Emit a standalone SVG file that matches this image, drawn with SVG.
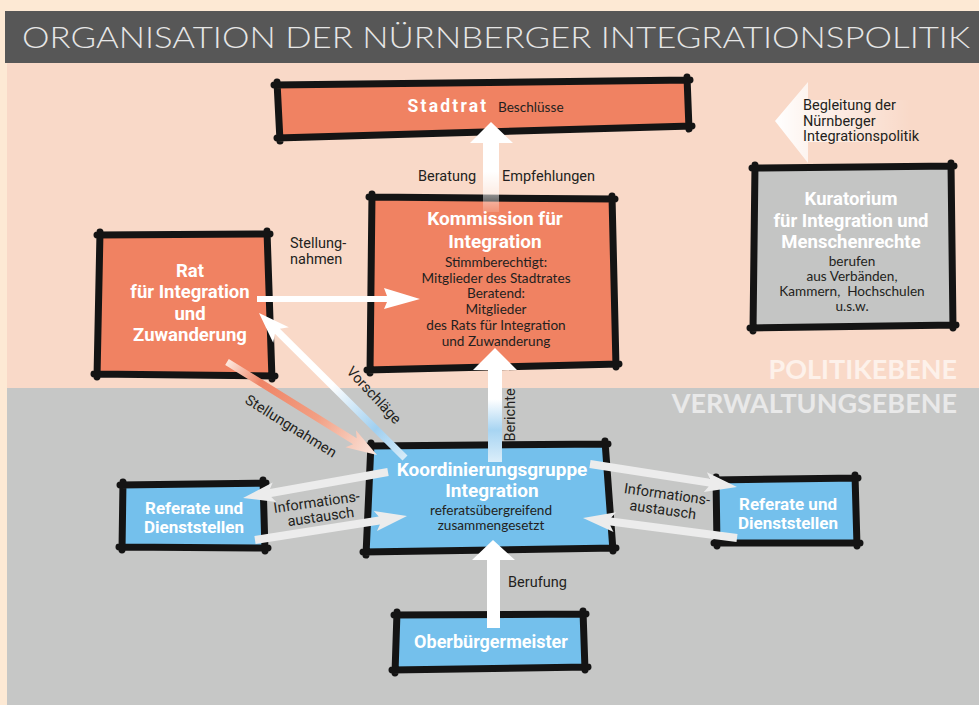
<svg xmlns="http://www.w3.org/2000/svg" width="979" height="705" viewBox="0 0 979 705">
<style>
.bx{stroke:none}
.ol{fill:none;stroke:#141414;stroke-width:7;stroke-linecap:round;stroke-linejoin:round}
.hd{font-family:Roboto,"Liberation Sans",sans-serif;font-weight:700;fill:#ffffff;text-anchor:middle}
.bd{font-family:Lato,"Noto Sans","Liberation Sans",sans-serif;font-size:13.6px;fill:#231f20;text-anchor:middle}
.lb{font-family:Roboto,"Liberation Sans",sans-serif;font-size:14.5px;fill:#231f20}
.lv{font-family:Lato,"Liberation Sans",sans-serif;font-weight:700;font-size:27px;text-anchor:end}
.wa{fill:#ffffff}
.ga{fill:#ececec}
</style>
<defs>
<linearGradient id="gStadt" gradientUnits="userSpaceOnUse" x1="0" y1="122" x2="0" y2="212">
<stop offset="0" stop-color="#fff"/><stop offset="0.55" stop-color="#fff"/><stop offset="1" stop-color="#fff" stop-opacity="0.15"/>
</linearGradient>
<linearGradient id="gBer" gradientUnits="userSpaceOnUse" x1="0" y1="348" x2="0" y2="462">
<stop offset="0" stop-color="#fff"/><stop offset="0.45" stop-color="#fff"/><stop offset="0.72" stop-color="#a7d4f2"/><stop offset="1" stop-color="#dbeefa"/>
</linearGradient>
<linearGradient id="gVor" gradientUnits="userSpaceOnUse" x1="259" y1="313" x2="405" y2="458">
<stop offset="0" stop-color="#fff"/><stop offset="0.5" stop-color="#fff"/><stop offset="0.8" stop-color="#9fcff0"/><stop offset="1" stop-color="#d6ebf8"/>
</linearGradient>
<linearGradient id="gSt" gradientUnits="userSpaceOnUse" x1="227" y1="362" x2="377" y2="455">
<stop offset="0" stop-color="#fde9df"/><stop offset="0.22" stop-color="#ef8466"/><stop offset="0.6" stop-color="#f29f83"/><stop offset="1" stop-color="#fbe7de"/>
</linearGradient>
<linearGradient id="gBeg" gradientUnits="userSpaceOnUse" x1="775" y1="0" x2="910" y2="0">
<stop offset="0" stop-color="#fff"/><stop offset="0.25" stop-color="#fff" stop-opacity="0.7"/><stop offset="1" stop-color="#fff" stop-opacity="0"/>
</linearGradient>
</defs>

<!-- background -->
<rect x="0" y="0" width="979" height="705" fill="#fde9d4"/>
<rect x="7" y="62" width="972" height="326" fill="#f9d9c8"/>
<rect x="7" y="388" width="972" height="317" fill="#c6c7c6"/>
<rect x="5" y="11" width="974" height="52" fill="#575757"/>
<text x="22" y="48" font-family="Lato,'Open Sans','Liberation Sans',sans-serif" font-weight="300" font-size="29" fill="#e6e6e6" textLength="948" lengthAdjust="spacingAndGlyphs">ORGANISATION DER NÜRNBERGER INTEGRATIONSPOLITIK</text>
<text class="lv" x="957" y="379" fill="#fdf1ea">POLITIKEBENE</text>
<text class="lv" x="957" y="413" fill="#e9e9e9">VERWALTUNGSEBENE</text>

<!-- Begleitung arrow -->
<polygon points="775,121 808,82 808,100 930,100 930,142 808,142 808,163" fill="url(#gBeg)"/>
<text class="lb" x="803"><tspan x="803" y="110">Begleitung der</tspan><tspan x="803" y="125.5">Nürnberger</tspan><tspan x="803" y="141">Integrationspolitik</tspan></text>

<!-- nodes -->
<g id="stadtrat">
<polygon class="bx" points="277,85 687,80 689,126 280,138" fill="#f08262"/>
<path class="ol" d="M274,85 L690,80 M687,77 L689,129 M692,126 L277,138 M280,141 L277,82"/>
<text class="hd" x="448" y="112" font-size="17.5" letter-spacing="2.2">Stadtrat</text>
<text class="bd" x="498" y="112" style="text-anchor:start">Beschlüsse</text>
</g>

<g id="kommission">
<polygon class="bx" points="372,197 612,199 616,364 370,370" fill="#f08262"/>
<path class="ol" d="M369,197 L615,199 M612,196 L616,367 M619,364 L367,370 M370,373 L372,194"/>
<text class="hd" x="495" y="225" font-size="19">Kommission für</text>
<text class="hd" x="495" y="248" font-size="19">Integration</text>
<text class="bd"><tspan x="496" y="267">Stimmberechtigt:</tspan><tspan x="496" y="283">Mitglieder des Stadtrates</tspan><tspan x="496" y="298">Beratend:</tspan><tspan x="496" y="314">Mitglieder</tspan><tspan x="496" y="330">des Rats für Integration</tspan><tspan x="496" y="346">und Zuwanderung</tspan></text>
</g>

<g id="rat">
<polygon class="bx" points="100,235 267,234 272,376 97,374" fill="#f08262"/>
<path class="ol" d="M97,235 L270,234 M267,231 L272,379 M275,376 L94,374 M97,377 L100,232"/>
<text class="hd" font-size="18.5"><tspan x="190" y="277">Rat</tspan><tspan x="190" y="298">für Integration</tspan><tspan x="190" y="320">und</tspan><tspan x="190" y="341">Zuwanderung</tspan></text>
</g>

<g id="kuratorium">
<polygon class="bx" points="755,168 951,166 953,325 753,328" fill="#c4c5c4"/>
<path class="ol" d="M752,168 L954,166 M951,163 L953,328 M956,325 L750,328 M753,331 L755,165"/>
<text class="hd" font-size="18.5"><tspan x="851" y="205">Kuratorium</tspan><tspan x="851" y="227">für Integration und</tspan><tspan x="851" y="248">Menschenrechte</tspan></text>
<text class="bd" xml:space="preserve"><tspan x="852" y="266">berufen</tspan><tspan x="852" y="281">aus Verbänden,</tspan><tspan x="852" y="296">Kammern,  Hochschulen</tspan><tspan x="852" y="311">u.s.w.</tspan></text>
</g>

<g id="koordinierung">
<polygon class="bx" points="371,446 605,444 613,548 366,552" fill="#74c0ec"/>
<path class="ol" d="M368,446 L608,444 M605,441 L613,551 M616,548 L363,552 M366,555 L371,443"/>
<text class="hd" font-size="19"><tspan x="492" y="476">Koordinierungsgruppe</tspan><tspan x="492" y="497">Integration</tspan></text>
<text class="bd"><tspan x="491" y="515">referatsübergreifend</tspan><tspan x="491" y="530">zusammengesetzt</tspan></text>
</g>

<g id="referate-links">
<polygon class="bx" points="123,485 263,483 265,548 122,547" fill="#74c0ec"/>
<path class="ol" d="M120,485 L266,483 M263,480 L265,551 M268,548 L119,547 M122,550 L123,482"/>
<text class="hd" font-size="17"><tspan x="194" y="514">Referate und</tspan><tspan x="194" y="533">Dienststellen</tspan></text>
</g>

<g id="referate-rechts">
<polygon class="bx" points="716,480 855,478 857,543 717,543" fill="#74c0ec"/>
<path class="ol" d="M713,480 L858,478 M855,475 L857,546 M860,543 L714,543 M717,546 L716,477"/>
<text class="hd" font-size="17"><tspan x="788" y="510">Referate und</tspan><tspan x="788" y="529">Dienststellen</tspan></text>
</g>

<g id="oberbuergermeister">
<polygon class="bx" points="397,615 583,614 585,667 395,670" fill="#74c0ec"/>
<path class="ol" d="M394,615 L586,614 M583,611 L585,670 M588,667 L392,670 M395,673 L397,612"/>
<text class="hd" x="491" y="648" font-size="18">Oberbürgermeister</text>
</g>

<!-- connectors -->
<g id="connectors">
<polygon points="483,212 483,143 470,143 491,122 513,143 499,143 499,212" fill="url(#gStadt)"/>
<polygon points="488,462 488,370 473,370 495,348 517,370 502,370 502,462" fill="url(#gBer)"/>
<polygon class="wa" points="487,628 487,560 472,560 493,540 515,560 500,560 500,628"/>
<polygon class="wa" points="257,296 387,296 384,288 420,299 384,309 387,302 257,302"/>
<polygon points="407.5,455.5 279.9,328.8 288.8,327.2 259,313 273.2,342.8 274.9,333.8 402.5,460.5" fill="url(#gVor)"/>
<polygon points="225.2,365 353.1,444.3 345.4,447.2 377,455 355.9,430.2 356.7,438.3 228.8,359" fill="url(#gSt)"/>
<polygon class="ga" points="387.3,468.1 269.9,489.1 272.7,482.5 243,498 276.3,502.1 271.3,496.9 388.7,475.9"/>
<polygon class="ga" points="255.6,544 379.9,524.4 377,530.9 407,516 373.8,511.1 378.7,516.5 254.4,536"/>
<polygon class="ga" points="589.4,468 708.7,486.6 703.8,492 737,487 706.9,472.2 709.9,478.7 590.6,460"/>
<polygon class="ga" points="737.5,534 611.3,517.6 616.1,512.2 583,518 613.5,532 610.3,525.6 736.5,542"/>
</g>

<!-- connector labels -->
<text class="lb" x="418" y="181">Beratung</text>
<text class="lb" x="502" y="181">Empfehlungen</text>
<text class="lb"><tspan x="290" y="248">Stellung-</tspan><tspan x="290" y="264">nahmen</tspan></text>
<text class="lb" x="508" y="587">Berufung</text>
<text class="lb" transform="translate(510,415) rotate(-90)" x="0" y="5" text-anchor="middle">Berichte</text>
<text class="lb" transform="translate(374,395) rotate(47)" x="0" y="5" text-anchor="middle" font-size="15">Vorschläge</text>
<text class="lb" transform="translate(291,426) rotate(32)" x="0" y="5" text-anchor="middle" font-size="15">Stellungnahmen</text>
<g transform="translate(317,505) rotate(-8)"><text class="lb" text-anchor="middle"><tspan x="0" y="2">Informations-</tspan><tspan x="2" y="17">austausch</tspan></text></g>
<g transform="translate(666,502) rotate(8)"><text class="lb" text-anchor="middle"><tspan x="0" y="-3">Informations-</tspan><tspan x="-2" y="13">austausch</tspan></text></g>
</svg>
